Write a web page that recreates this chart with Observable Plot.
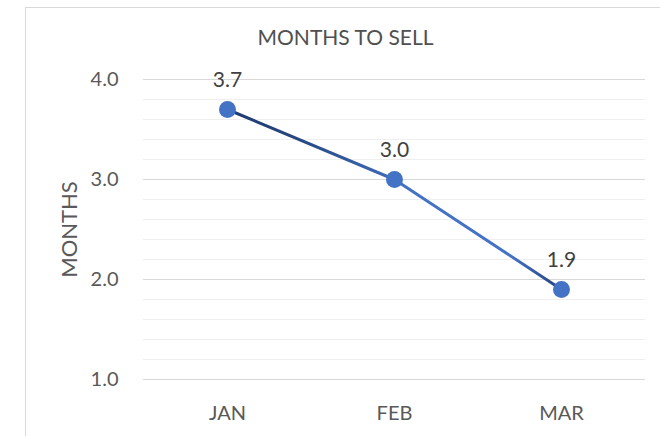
<!DOCTYPE html>
<html>
<head>
<meta charset="utf-8">
<script src="https://cdn.jsdelivr.net/npm/d3@7"></script>
<script src="https://cdn.jsdelivr.net/npm/@observablehq/plot@0.6"></script>
<style>
  html, body { margin: 0; padding: 0; background: #fff; overflow: hidden; width: 660px; height: 436px; }
  #frame { position: absolute; left: 25px; top: 7px; width: 700px; height: 500px; border: 1px solid #d9d9d9; box-sizing: border-box; }
  #chart { position: absolute; left: 0; top: 0; }
</style>
</head>
<body>
<div id="frame"></div>
<div id="chart"></div>
<script>
const title = "MONTHS TO SELL";
const yLabel = "MONTHS";
const months = ["JAN", "FEB", "MAR"];
const values = [3.7, 3.0, 1.9];
const majorTicks = [1, 2, 3, 4];
const minorTicks = [1.2, 1.4, 1.6, 1.8, 2.2, 2.4, 2.6, 2.8, 3.2, 3.4, 3.6, 3.8];

const data = months.map((m, i) => ({ month: m, value: values[i] }));
const font = "Lato, 'Open Sans', sans-serif";

const chart = Plot.plot({
  width: 660,
  height: 436,
  marginTop: 79,
  marginBottom: 57,
  marginLeft: 143,
  marginRight: 15,
  style: { fontFamily: font, fontSize: "20px", color: "#595959", background: "transparent" },
  x: { type: "point", domain: months, padding: 0.5, label: null, tickSize: 0, tickPadding: 26 },
  y: { domain: [1, 4], ticks: majorTicks, tickFormat: d3.format(".1f"), tickSize: 0, tickPadding: 25,
       label: yLabel, labelAnchor: "center", labelArrow: "none", labelOffset: 82 },
  marks: [
    Plot.ruleY(minorTicks, { stroke: "#efefef", strokeWidth: 1 }),
    Plot.ruleY(majorTicks, { stroke: "#d9d9d9", strokeWidth: 1 }),
    Plot.line(data, { x: "month", y: "value", stroke: "url(#lineGrad)", strokeWidth: 3 }),
    Plot.dot(data, { x: "month", y: "value", r: 8.5, fill: "#4472C4", stroke: "none" }),
    Plot.text(data, { x: "month", y: "value", text: d => d.value.toFixed(1), dy: -29, fill: "#404040", fontSize: 21 }),
    Plot.text([title], { frameAnchor: "top-left", dx: 202, dy: -41, lineAnchor: "middle", textAnchor: "middle", fill: "#505050", fontSize: 21, letterSpacing: "-0.5px" })
  ]
});

chart.querySelectorAll("[aria-label='y-axis label'] text").forEach(t => t.setAttribute("font-size", "22"));

const ns = "http://www.w3.org/2000/svg";
const defs = document.createElementNS(ns, "defs");
const grad = document.createElementNS(ns, "linearGradient");
grad.setAttribute("id", "lineGrad");
grad.setAttribute("x1", "0"); grad.setAttribute("x2", "1");
grad.setAttribute("y1", "0"); grad.setAttribute("y2", "0");
[["0", "#1f3a70"], ["0.2", "#26477f"], ["0.45", "#3b64b0"], ["0.52", "#4472c4"], ["0.85", "#4472c4"], ["1", "#22427c"]]
  .forEach(([o, c]) => {
    const s = document.createElementNS(ns, "stop");
    s.setAttribute("offset", o); s.setAttribute("stop-color", c);
    grad.appendChild(s);
  });
defs.appendChild(grad);
chart.insertBefore(defs, chart.firstChild);

document.getElementById("chart").appendChild(chart);
</script>
</body>
</html>
